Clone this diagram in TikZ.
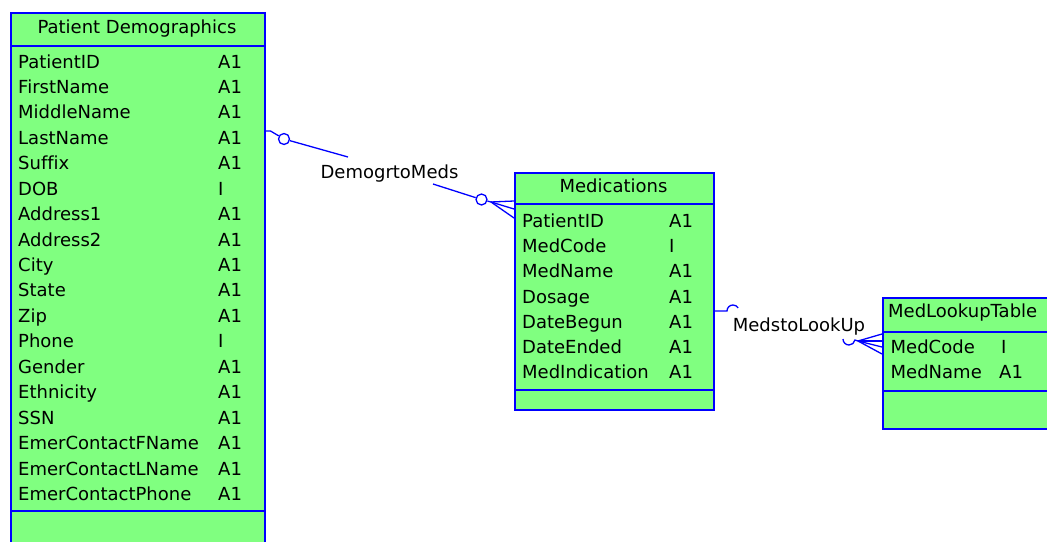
\documentclass[tikz,border=0pt]{standalone}
\usepackage{fontspec}
\setmainfont{DejaVu Sans}[Ligatures={NoCommon}]
\definecolor{tblfill}{RGB}{128,255,128}
\definecolor{tblline}{RGB}{0,0,255}
\begin{document}
\begin{tikzpicture}[x=1pt,y=-1pt,
  font=\fontsize{18}{20}\selectfont,
  tbl/.style={draw=tblline, fill=tblfill, line width=1.5pt, anchor=north west, inner sep=0pt},
  sepline/.style={draw=tblline, line width=1.5pt},
  fld/.style={anchor=base west, inner sep=0pt},
  hdr/.style={anchor=base, inner sep=0pt},
  rel/.style={draw=tblline, line width=1.3pt},
  opt/.style={draw=tblline, line width=1.3pt, circle, minimum size=11pt, inner sep=0pt},
  lbl/.style={anchor=base, inner sep=0pt}]
\clip (0,0) rectangle (1047,541);
\fill[white] (0,0) rectangle (1047,541);

% ---------- Patient Demographics ----------
\node[tbl, minimum width=254pt, minimum height=560pt] (pd) at (10,12) {};
\draw[sepline] (10,46) -- (264,46);
\draw[sepline] (10,511) -- (264,511);
\node[hdr] (pdh) at (137,33.5) {Patient Demographics};
\foreach \n/\t [count=\i from 0] in {PatientID/A1,FirstName/A1,MiddleName/A1,LastName/A1,Suffix/A1,DOB/I,Address1/A1,Address2/A1,City/A1,State/A1,Zip/A1,Phone/I,Gender/A1,Ethnicity/A1,SSN/A1,EmerContactFName/A1,EmerContactLName/A1,EmerContactPhone/A1}{
  \node[fld] (pdn\i) at (18,68+25.44*\i) {\n};
  \node[fld] (pdt\i) at (218,68+25.44*\i) {\t};
}

% ---------- Medications ----------
\node[tbl, minimum width=199pt, minimum height=237pt] (md) at (514,172) {};
\draw[sepline] (514,204) -- (713,204);
\draw[sepline] (514,390) -- (713,390);
\node[hdr] (mdh) at (613.5,192) {Medications};
\foreach \n/\t [count=\i from 0] in {PatientID/A1,MedCode/I,MedName/A1,Dosage/A1,DateBegun/A1,DateEnded/A1,MedIndication/A1}{
  \node[fld] (mdn\i) at (522,227.5+25.2*\i) {\n};
  \node[fld] (mdt\i) at (669,227.5+25.2*\i) {\t};
}

% ---------- MedLookupTable ----------
\node[tbl, minimum width=220pt, minimum height=131pt] (ml) at (882,297) {};
\draw[sepline] (882,332) -- (1102,332);
\draw[sepline] (882,391) -- (1102,391);
\node[fld] (mlh) at (888,317) {MedLookupTable};
\node[fld] (mln0) at (890.5,353.5) {MedCode};
\node[fld] (mlt0) at (1001,353.5) {I};
\node[fld] (mln1) at (890.5,378.5) {MedName};
\node[fld] (mlt1) at (999,378.5) {A1};

% ---------- DemogrtoMeds ----------
\coordinate (d1) at (pd.east |- 0,131);
\node[opt] (o1) at (284,139) {};
\coordinate (d2) at (348,157);
\node[lbl] (lab1) at (389.5,178.5) {DemogrtoMeds};
\coordinate (d3) at (433,184);
\node[opt] (o2) at (481.5,199.5) {};
\coordinate (cf1) at (491,202);
\coordinate (p1) at (md.west |- 0,201);
\coordinate (p2) at (md.west |- 0,209);
\coordinate (p3) at (md.west |- 0,218);
\draw[rel] (d1) -- ++(5,0) -- (o1);
\draw[rel] (o1) -- (d2);
\draw[rel] (d3) -- (o2);
\draw[rel] (o2) -- (cf1);
\draw[rel] (cf1) -- (p1);
\draw[rel] (cf1) -- (p2);
\draw[rel] (cf1) -- (p3);

% ---------- MedstoLookUp ----------
\coordinate (m1) at (md.east |- 0,311);
\coordinate (m2) at (727,311);
\draw[rel] (m1) -- (m2) arc[start angle=180, end angle=330, radius=6];
\node[lbl] (lab2) at (799,331.5) {MedstoLookUp};
\coordinate (m3) at (843,339);
\coordinate (cf2) at (858,341);
\coordinate (q1) at (ml.west |- 0,334);
\coordinate (q2) at (ml.west |- 0,341);
\coordinate (q3) at (ml.west |- 0,347);
\coordinate (q4) at (ml.west |- 0,354);
\draw[rel] (m3) arc[start angle=180, end angle=10, radius=6] -- (cf2);
\draw[rel] (cf2) -- (q1);
\draw[rel] (cf2) -- (q2);
\draw[rel] (cf2) -- (q3);
\draw[rel] (cf2) -- (q4);
\end{tikzpicture}
\end{document}
